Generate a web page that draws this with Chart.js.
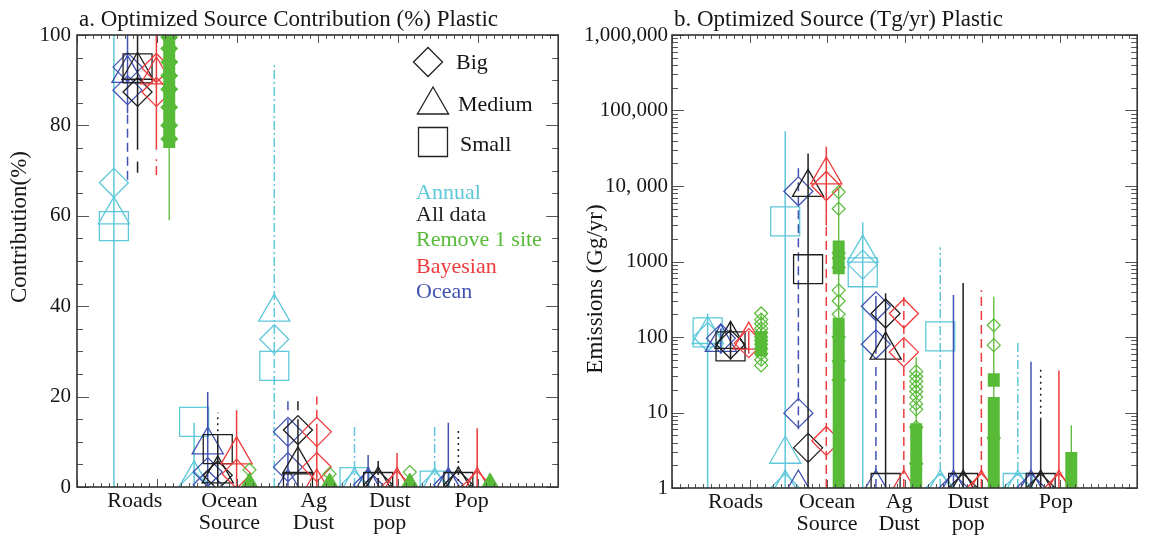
<!DOCTYPE html>
<html><head><meta charset="utf-8">
<script src="https://cdn.jsdelivr.net/npm/chart.js@4.4.1/dist/chart.umd.min.js"></script>
<style>
html,body{margin:0;padding:0;background:#fff;}
#wrap{position:relative;width:1159px;height:546px;overflow:hidden;background:#fff;}
canvas{position:absolute;top:0;}
</style>
</head><body>
<div id="wrap">
<canvas id="cA" width="580" height="546" style="left:0px"></canvas>
<canvas id="cB" width="579" height="546" style="left:580px"></canvas>
</div>
<script>
// ---------------- DATA ----------------
const categories = ['Roads', ['Ocean','Source'], ['Ag','Dust'], ['Dust','pop'], 'Pop'];
const seriesLabels = ['Annual','All data','Remove 1 site','Bayesian','Ocean'];
const sizeLabels = ['Big','Medium','Small'];
const pctTicks = [0,20,40,60,80,100];
const ggTickValues = [1,10,100,1000,10000,100000,1000000];
const ggTickLabels = ['1','10','100','1000','10, 000','100,000','1,000,000'];

// Panel a: contribution (%)  -- nested per category
const pctAnnualBig    = [[67.3],[0.3],[32.7],[0.3],[0.3]];
const pctAnnualMedium = [[60.2],[1.8],[38.7],[0.3],[0.3]];
const pctAnnualSmall  = [[57.7],[14.4],[26.8],[1.1],[0.3]];
const pctAnnualBars   = [[[0,100]],[[0,14.2]],[[0,93.5]],[[0,14]],[[0,14]]];
const pctAnnualStyle  = [['solid'],['solid'],['dashdot'],['dashdot'],['dashdot']];

const pctOceanBig     = [[92.9,87.8],[3.3,0.5],[12.2,4.4],[0.5],[0.5]];
const pctOceanMedium  = [[91.5],[9.3],[0],[0.3],[0.3]];
const pctOceanSmall   = [[],[],[],[],[]];
const pctOceanBars    = [[[82.7,100],[68,82.7]],[[0,21]],[[0,15],[17,20]],[[0,7.1]],[[0,14.2]]];
const pctOceanStyle   = [['solid','dashed'],['solid'],['solid','dashed'],['solid'],['solid']];

const pctAllBig       = [[87.4],[2.6],[12.6],[0.5],[0.5]];
const pctAllMedium    = [[92.2],[2.9],[4.9],[0.5],[0.5]];
const pctAllSmall     = [[92.6],[8.4],[0],[0],[0]];
const pctAllBars      = [[[74.6,100],[69.5,72]],[[0,11],[11,16.4]],[[0,15],[17,20]],[[0,6.4]],[[0,12.6]]];
const pctAllStyle     = [['solid','solid'],['solid','dotted'],['solid','dashed'],['dashdot'],['dotted']];

const pctBayesBig     = [[92.7,87.4],[2.9],[12.2,4.4],[0.3],[0.3]];
const pctBayesMedium  = [[91.2],[7.1],[0],[0.3],[0.3]];
const pctBayesSmall   = [[],[],[],[],[]];
const pctBayesBars    = [[[74.6,100],[69,72.5]],[[0,17]],[[0,12],[12,20]],[[0,7.5]],[[0,13]]];
const pctBayesStyle   = [['solid','dashed'],['solid'],['solid','dashed'],['solid'],['solid']];

const pctRemoveColumns  = [[[75,100]],[],[],[],[]];
const pctRemoveBars     = [[[59,75]],[],[],[],[]];
const pctRemoveDiamonds = [[],[3.8],[2.9],[3.3],[]];
const pctRemoveFilled   = [[99.5,97,94,91,88,84,80,77],[],[],[],[]];
const pctRemoveMounds   = [[],[0],[0],[0],[0]];

// Panel b: emissions (Gg/yr)
const ggAnnualBig     = [[100],[1],[910],[1],[1]];
const ggAnnualMedium  = [[108],[2.8,1],[1290],[1],[1]];
const ggAnnualSmall   = [[115],[3400],[720],[102],[1]];
const ggAnnualBars    = [[[1,205]],[[1,53000]],[[1,3300]],[[1,1550]],[[1,85]]];
const ggAnnualStyle   = [['solid'],['solid'],['solid'],['dashdot'],['dashdot']];

const ggOceanBig      = [[96],[8500,9.8],[255,80],[1],[1]];
const ggOceanMedium   = [[85],[1],[1],[1],[1]];
const ggOceanSmall    = [[],[],[],[],[]];
const ggOceanBars     = [[[60,130]],[[6,20000]],[[1,40],[60,350]],[[1,360]],[[1,47]]];
const ggOceanStyle    = [['solid'],['dashed'],['dashed','solid'],['solid'],['solid']];

const ggAllBig        = [[80],[3.4],[205],[1],[1]];
const ggAllMedium     = [[93],[9600],[67],[1],[1]];
const ggAllSmall      = [[75],[790],[1],[1],[1]];
const ggAllBars       = [[[50,160]],[[1,27000]],[[1,380]],[[1,520]],[[8,39],[1,8]]];
const ggAllStyle      = [['solid'],['solid'],['solid'],['solid'],['dotted','solid']];

const ggBayesBig      = [[83],[10000,4.2],[205,63],[1],[1]];
const ggBayesMedium   = [[91],[14000],[1],[1],[1]];
const ggBayesSmall    = [[],[],[],[],[]];
const ggBayesBars     = [[[60,120]],[[1,3000],[3000,33000]],[[1,380]],[[1,415]],[[1,36]]];
const ggBayesStyle    = [['solid'],['dashed','solid'],['dashed'],['dashed'],['solid']];

const ggRemoveColumns  = [[[55,120]],[[680,1900],[1,180]],[[1,7.2]],[[1,16],[22,33]],[[1,3]]];
const ggRemoveBars     = [[[42,205]],[[1,9500]],[[1,54]],[[1,340]],[[1,6.8]]];
const ggRemoveDiamonds = [[205,170,150,130,115,100,90,80,70,60,50,42],
                          [8300,5000,1300,1100,830,415,300,200,100,48,27],
                          [35,30,26,22,19,16,13,11,6.4,2.1],[143,78,4.6],[]];

// ---------------- STYLE / LAYOUT ----------------
const FONT = "'Liberation Serif', 'DejaVu Serif', serif";
const TXT = '#161616';
const COLORS = {annual:'#5ec8da', ocean:'#4252b2', all:'#1e1e1e', bayes:'#ee3b3b', remove:'#58bb38'};
const OFFS = {annual:-0.54, ocean:-0.37, all:-0.245, bayes:-0.01, remove:0.15};
const DASH = {solid:[], dashed:[9,5], dotted:[2,4], dashdot:[9,3,2,3]};
Chart.defaults.font.family = FONT;

function whiskers(bars, styles, color, off, width) {
  const out = [];
  bars.forEach((list, k) => list.forEach((r, j) => out.push({
    type:'line', data:[{x:k+1+off, y:r[0]}, {x:k+1+off, y:r[1]}],
    borderColor:color, borderWidth:width, borderDash:DASH[styles ? styles[k][j] : 'solid'],
    borderCapStyle:'butt', pointRadius:0, fill:false, clip:0, tension:0
  })));
  return out;
}
function markers(vals, style, radius, color, off, filled, bw) {
  return {type:'scatter', data:vals.flatMap((l,k)=>l.map(v=>({x:k+1+off, y:v}))),
    pointStyle:style, pointRadius:radius, pointHoverRadius:radius,
    pointBorderColor:color, pointBackgroundColor: filled ? color : 'rgba(0,0,0,0)',
    pointBorderWidth:bw, showLine:false, clip:0};
}
function series(key, big, med, small, bars, styles) {
  const c = COLORS[key], o = OFFS[key];
  return [
    ...whiskers(bars, styles, c, o, 1.5),
    markers(big,'rectRot',14.5,c,o,false,1.3),
    markers(med,'triangle',18,c,o,false,1.3),
    markers(small,'rect',20.5,c,o,false,1.3)
  ];
}
function greenSeries(cols, bars, diamonds, filled, mounds) {
  const c = COLORS.remove, o = OFFS.remove;
  const out = [
    ...whiskers(bars, null, c, o, 1.3),
    ...whiskers(cols, null, c, o, 12),
    markers(diamonds,'rectRot',6.5,c,o,false,1.2)
  ];
  if (filled) out.push(markers(filled,'rectRot',8.5,c,o,true,1));
  if (mounds) out.push(markers(mounds,'triangle',14,c,o,true,1));
  return out;
}

const deco = {
  id:'deco',
  afterDraw(chart, args, o) {
    const ctx = chart.ctx, a = chart.chartArea, xs = chart.scales.x, ys = chart.scales.y;
    ctx.save();
    ctx.strokeStyle = '#555'; ctx.lineWidth = 1; ctx.setLineDash([]);
    ctx.beginPath();
    for (let i = 0; i <= 60; i++) {
      const px = Math.round(xs.getPixelForValue(i/10)) + 0.5;
      const L = (i % 10 === 0) ? 8 : 4;
      ctx.moveTo(px, a.bottom); ctx.lineTo(px, a.bottom - L);
      ctx.moveTo(px, a.top); ctx.lineTo(px, a.top + L);
    }
    o.yMinor.forEach(v => { const py = Math.round(ys.getPixelForValue(v)) + 0.5;
      ctx.moveTo(a.left, py); ctx.lineTo(a.left + 6, py); ctx.moveTo(a.right, py); ctx.lineTo(a.right - 6, py); });
    o.yMajor.forEach(v => { const py = Math.round(ys.getPixelForValue(v)) + 0.5;
      ctx.moveTo(a.left, py); ctx.lineTo(a.left + 12, py); ctx.moveTo(a.right, py); ctx.lineTo(a.right - 12, py); });
    ctx.stroke();
    ctx.strokeStyle = '#333'; ctx.lineWidth = 1.6;
    ctx.strokeRect(a.left, a.top, a.right - a.left, a.bottom - a.top);
    ctx.fillStyle = TXT; ctx.font = '23px ' + FONT; ctx.textAlign = 'left'; ctx.textBaseline = 'alphabetic';
    ctx.fillText(o.title, a.left + 2, 26);
    ctx.save(); ctx.translate(o.yTitleX, o.yTitleY); ctx.rotate(-Math.PI/2);
    ctx.textAlign = 'center'; ctx.textBaseline = 'middle'; ctx.fillText(o.yTitle, 0, 0); ctx.restore();
    if (o.legend) {
      ctx.font = '22px ' + FONT;
      const sym = [['rectRot',14.5,428,62],['triangle',18,433,105],['rect',20.5,433,142]];
      const tx = [[456,63],[458,105],[460,145]];
      sym.forEach((s,i) => {
        ctx.strokeStyle = '#222'; ctx.fillStyle = 'rgba(0,0,0,0)'; ctx.lineWidth = 1.3;
        Chart.helpers.drawPoint(ctx, {pointStyle:s[0], radius:s[1], rotation:0, borderWidth:1.3}, s[2], s[3]);
        ctx.fillStyle = TXT; ctx.textBaseline = 'middle'; ctx.textAlign = 'left';
        ctx.fillText(sizeLabels[i], tx[i][0], tx[i][1]);
      });
      const cols = [COLORS.annual, COLORS.all, COLORS.remove, COLORS.bayes, COLORS.ocean];
      const ly = [193,215,240,267,292];
      seriesLabels.forEach((t,i) => { ctx.fillStyle = cols[i]; ctx.fillText(t, 416, ly[i]); });
    }
    ctx.restore();
  }
};

function xScale(labelPos, h) {
  return {type:'linear', min:0, max:6,
    afterFit(s){ s.height = h; },
    afterBuildTicks(s){ s.ticks = labelPos.map(v => ({value:v})); },
    ticks:{autoSkip:false, maxRotation:0, minRotation:0, padding:3, color:TXT,
      font:{size:22, family:FONT, lineHeight:1.0}, callback:(v,i) => categories[i]},
    grid:{display:false, drawTicks:false}, border:{display:false}};
}
function baseOptions(padRight, xs, ys, decoOpts) {
  return {responsive:false, animation:false, events:[],
    layout:{padding:{top:35, right:padRight, left:0, bottom:0}},
    plugins:{legend:{display:false}, tooltip:{enabled:false}, deco:decoOpts},
    scales:{x:xs, y:ys}};
}

// ---------- Panel a ----------
const dsA = [
  ...greenSeries(pctRemoveColumns, pctRemoveBars, pctRemoveDiamonds, pctRemoveFilled, pctRemoveMounds),
  ...series('bayes', pctBayesBig, pctBayesMedium, pctBayesSmall, pctBayesBars, pctBayesStyle),
  ...series('all', pctAllBig, pctAllMedium, pctAllSmall, pctAllBars, pctAllStyle),
  ...series('ocean', pctOceanBig, pctOceanMedium, pctOceanSmall, pctOceanBars, pctOceanStyle),
  ...series('annual', pctAnnualBig, pctAnnualMedium, pctAnnualSmall, pctAnnualBars, pctAnnualStyle)
];
const pctMinor = []; for (let v = 5; v < 100; v += 5) if (v % 20) pctMinor.push(v);
new Chart(document.getElementById('cA'), {
  type:'scatter', data:{datasets:dsA},
  options: baseOptions(19, xScale([0.72,1.9,2.95,3.9,4.92], 59), {
    type:'linear', min:0, max:100,
    afterFit(s){ s.width = 77; },
    afterBuildTicks(s){ s.ticks = pctTicks.map(v => ({value:v})); },
    ticks:{padding:6, color:TXT, font:{size:21, family:FONT}},
    grid:{display:false, drawTicks:false}, border:{display:false}
  }, {title:'a. Optimized Source Contribution (%) Plastic', yTitle:'Contribution(%)', yTitleX:20, yTitleY:227,
      yMajor:pctTicks, yMinor:pctMinor, legend:true}),
  plugins:[deco]
});

// ---------- Panel b ----------
const dsB = [
  ...greenSeries(ggRemoveColumns, ggRemoveBars, ggRemoveDiamonds, null, null),
  ...series('bayes', ggBayesBig, ggBayesMedium, ggBayesSmall, ggBayesBars, ggBayesStyle),
  ...series('all', ggAllBig, ggAllMedium, ggAllSmall, ggAllBars, ggAllStyle),
  ...series('ocean', ggOceanBig, ggOceanMedium, ggOceanSmall, ggOceanBars, ggOceanStyle),
  ...series('annual', ggAnnualBig, ggAnnualMedium, ggAnnualSmall, ggAnnualBars, ggAnnualStyle)
];
const ggMinor = []; for (let d = 1; d < 1000000; d *= 10) for (let m = 2; m <= 9; m++) ggMinor.push(m*d);
new Chart(document.getElementById('cB'), {
  type:'scatter', data:{datasets:dsB},
  options: baseOptions(3, xScale([0.82,2.0,2.93,3.82,4.95], 58), {
    type:'logarithmic', min:1, max:1000000,
    afterFit(s){ s.width = 92; },
    afterBuildTicks(s){ s.ticks = ggTickValues.map(v => ({value:v})); },
    ticks:{padding:4, color:TXT, font:{size:21, family:FONT}, callback:(v,i) => ggTickLabels[i]},
    grid:{display:false, drawTicks:false}, border:{display:false}
  }, {title:'b. Optimized Source (Tg/yr) Plastic', yTitle:'Emissions (Gg/yr)', yTitleX:16, yTitleY:289,
      yMajor:ggTickValues, yMinor:ggMinor, legend:false}),
  plugins:[deco]
});
</script>
</body></html>
